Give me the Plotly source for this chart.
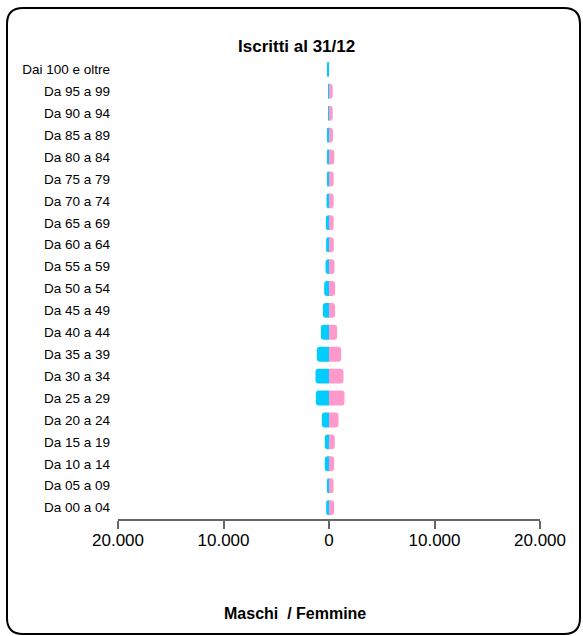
import plotly.graph_objects as go

age_groups = ["Da 00 a 04", "Da 05 a 09", "Da 10 a 14", "Da 15 a 19", "Da 20 a 24",
              "Da 25 a 29", "Da 30 a 34", "Da 35 a 39", "Da 40 a 44", "Da 45 a 49",
              "Da 50 a 54", "Da 55 a 59", "Da 60 a 64", "Da 65 a 69", "Da 70 a 74",
              "Da 75 a 79", "Da 80 a 84", "Da 85 a 89", "Da 90 a 94", "Da 95 a 99",
              "Dai 100 e oltre"]
maschi = [270, 200, 400, 400, 680, 1250, 1280, 1150, 770, 580,
          460, 330, 270, 300, 240, 175, 175, 140, 95, 10, 150]
femmine = [490, 430, 490, 550, 900, 1470, 1370, 1150, 770, 580,
           580, 520, 460, 440, 440, 440, 500, 380, 350, 350, 0]
tick_vals = [-20000, -10000, 0, 10000, 20000]
tick_text = ["20.000", "10.000", "0", "10.000", "20.000"]

W, H = 583, 636
L, R, T, B = 118, 43, 58, 117
pw, ph = W - L - R, H - T - B


def px(x):
    return (x - L) / pw


def py(y):
    return (H - B - y) / ph


font = "Liberation Sans, Arial, sans-serif"

fig = go.Figure()
fig.add_trace(go.Bar(y=age_groups, x=[-v for v in maschi], orientation="h",
                     marker=dict(color="#00CCFF", line=dict(width=0)), name="Maschi",
                     hoverinfo="skip"))
fig.add_trace(go.Bar(y=age_groups, x=femmine, orientation="h",
                     marker=dict(color="#FF99CC", line=dict(width=0)), name="Femmine",
                     hoverinfo="skip"))

# rounded frame
x0, x1, y0, y1, r = 7, 580, 8, 634, 16
pts = [
    ("M", x0 + r, y0), ("L", x1 - r, y0), ("Q", x1, y0, x1, y0 + r),
    ("L", x1, y1 - r), ("Q", x1, y1, x1 - r, y1), ("L", x0 + r, y1),
    ("Q", x0, y1, x0, y1 - r), ("L", x0, y0 + r), ("Q", x0, y0, x0 + r, y0),
]
path = ""
for p in pts:
    cmd = p[0]
    coords = p[1:]
    seg = []
    for i in range(0, len(coords), 2):
        seg.append(f"{px(coords[i]):.5f},{py(coords[i + 1]):.5f}")
    path += cmd + " " + " ".join(seg) + " "
path += "Z"

fig.add_shape(type="path", path=path, xref="paper", yref="paper",
              line=dict(color="black", width=2), fillcolor="rgba(0,0,0,0)")

fig.add_annotation(text="<b>Iscritti al 31/12</b>", x=px(296), y=py(46), xref="paper",
                   yref="paper", showarrow=False, xanchor="center", yanchor="middle",
                   font=dict(family=font, size=17, color="black"))
fig.add_annotation(text="<b>Maschi  / Femmine</b>", x=px(295), y=py(613), xref="paper",
                   yref="paper", showarrow=False, xanchor="center", yanchor="middle",
                   font=dict(family=font, size=16, color="black"))

fig.update_layout(
    width=W, height=H, margin=dict(l=L, r=R, t=T, b=B),
    barmode="relative", bargap=0.32, barcornerradius=3,
    showlegend=False, plot_bgcolor="white", paper_bgcolor="white",
    font=dict(family=font, color="black"),
    hovermode=False,
    xaxis=dict(range=[-20000, 20000], tickvals=tick_vals, ticktext=tick_text,
               showgrid=False, zeroline=False, showline=True, linecolor="#666666",
               linewidth=1.5, ticks="outside", ticklen=8, tickwidth=1.5,
               tickcolor="#666666", tickfont=dict(size=17, color="black"),
               ticklabelstandoff=-3, fixedrange=True),
    yaxis=dict(type="category", categoryorder="array", categoryarray=age_groups,
               range=[-0.52, 20.52], showgrid=False, zeroline=False, showline=False,
               ticks="", ticklabelstandoff=7, tickfont=dict(size=13.5, color="black"),
               fixedrange=True),
)

fig.write_html("out.html", config={"displayModeBar": False},
               post_script="document.body.style.margin='0';document.body.style.overflow='hidden';")
